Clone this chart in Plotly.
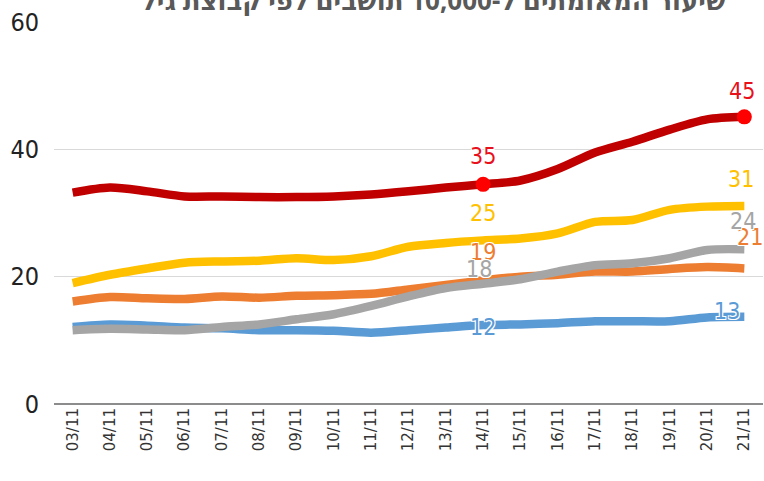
import plotly.graph_objects as go

dates = ["03/11", "04/11", "05/11", "06/11", "07/11", "08/11", "09/11", "10/11", "11/11", "12/11",
         "13/11", "14/11", "15/11", "16/11", "17/11", "18/11", "19/11", "20/11", "21/11"]

red = [33.2, 34.0, 33.4, 32.6, 32.6, 32.5, 32.5, 32.6, 32.9, 33.4, 34.0, 34.5, 35.1, 36.9, 39.5, 41.2, 43.1, 44.7, 45.1]
yellow = [19.0, 20.3, 21.3, 22.2, 22.4, 22.5, 22.9, 22.6, 23.2, 24.7, 25.3, 25.7, 26.0, 26.8, 28.6, 28.9, 30.5, 31.0, 31.1]
orange = [16.1, 16.8, 16.6, 16.5, 16.9, 16.7, 17.0, 17.1, 17.3, 18.0, 18.7, 19.4, 20.0, 20.3, 20.8, 20.8, 21.2, 21.5, 21.3]
gray = [11.6, 11.8, 11.7, 11.6, 12.1, 12.5, 13.3, 14.1, 15.4, 16.9, 18.2, 18.9, 19.6, 20.8, 21.8, 22.1, 22.9, 24.2, 24.3]
blue = [12.1, 12.5, 12.3, 12.0, 11.9, 11.6, 11.6, 11.5, 11.2, 11.6, 12.0, 12.4, 12.5, 12.7, 13.0, 13.0, 13.0, 13.6, 13.7]

label_mid = {"red": "35", "yellow": "25", "orange": "19", "gray": "18", "blue": "12"}
label_end = {"red": "45", "yellow": "31", "orange": "21", "gray": "24", "blue": "13"}

title_text = "שיעור המאומתים ל-10,000 תושבים לפי קבוצת גיל"

colors = {"red": "#C00000", "yellow": "#FFC000", "orange": "#ED7D31", "gray": "#A5A5A5", "blue": "#5B9BD5"}
label_colors = {"red": "#E8101A", "yellow": "#FFC000", "orange": "#ED7D31", "gray": "#A5A5A5", "blue": "#5B9BD5"}
series = {"red": red, "yellow": yellow, "orange": orange, "gray": gray, "blue": blue}

fig = go.Figure()
for key in ["blue", "orange", "gray", "yellow", "red"]:
    fig.add_trace(go.Scatter(
        x=dates, y=series[key], mode="lines",
        line=dict(color=colors[key], width=8.5, shape="spline", smoothing=0.8),
        showlegend=False, hoverinfo="skip"))

mi, ei = 11, 18
fig.add_trace(go.Scatter(
    x=[dates[mi], dates[ei]], y=[red[mi], red[ei]], mode="markers",
    marker=dict(color="#FF0000", size=15), showlegend=False, hoverinfo="skip"))

lab_font = "Liberation Sans Narrow, DejaVu Sans Condensed, Roboto Condensed, Roboto, sans-serif"
shadow = "1px 1px 0 #fff, -1px -1px 0 #fff, 1px -1px 0 #fff, -1px 1px 0 #fff"

offsets_mid = {"red": (0, 28), "yellow": (0, 27), "orange": (0, 28), "gray": (-4, 15), "blue": (0, -2)}
offsets_end = {"red": (-2, 26), "yellow": (-3, 27), "orange": (6, 31), "gray": (-1, 28), "blue": (-17, 6)}

for key in ["orange", "gray", "red", "yellow", "blue"]:
    dx, dy = offsets_mid[key]
    fig.add_annotation(x=dates[mi], y=series[key][mi], text=label_mid[key], showarrow=False,
                       xshift=dx, yshift=dy,
                       font=dict(family=lab_font, size=23, color=label_colors[key], shadow=shadow))
for key in ["orange", "gray", "red", "yellow", "blue"]:
    dx, dy = offsets_end[key]
    fig.add_annotation(x=dates[ei], y=series[key][ei], text=label_end[key], showarrow=False,
                       xshift=dx, yshift=dy,
                       font=dict(family=lab_font, size=23, color=label_colors[key], shadow=shadow))

# title, partly cut off by the top edge as in the reference
fig.add_annotation(xref="paper", yref="paper", x=0.535, y=1, yshift=22, xanchor="center",
                   yanchor="middle", showarrow=False, text="<b>" + title_text + "</b>",
                   font=dict(family="Noto Sans, DejaVu Sans, sans-serif", size=26, color="#595959"))

fig.update_layout(
    width=764, height=481,
    margin=dict(l=54, r=1, t=22, b=77),
    paper_bgcolor="white", plot_bgcolor="white",
    xaxis=dict(type="category", range=[-0.5, 18.5], tickangle=-90, showgrid=False,
               showline=False, ticks="", automargin=False,
               tickfont=dict(family="DejaVu Sans, Verdana, sans-serif", size=15, color="#333333")),
    yaxis=dict(range=[0, 60], tickvals=[0, 20, 40, 60], showgrid=True, gridcolor="#D9D9D9",
               gridwidth=1, zeroline=True, zerolinecolor="#8C8C8C", zerolinewidth=2,
               ticks="", ticklabelstandoff=14, automargin=False,
               tickfont=dict(family=lab_font, size=25, color="#222222")),
)

fig.write_html("out.html", config={"displayModeBar": False},
               post_script="document.body.style.margin='0';document.body.style.overflow='hidden';")
